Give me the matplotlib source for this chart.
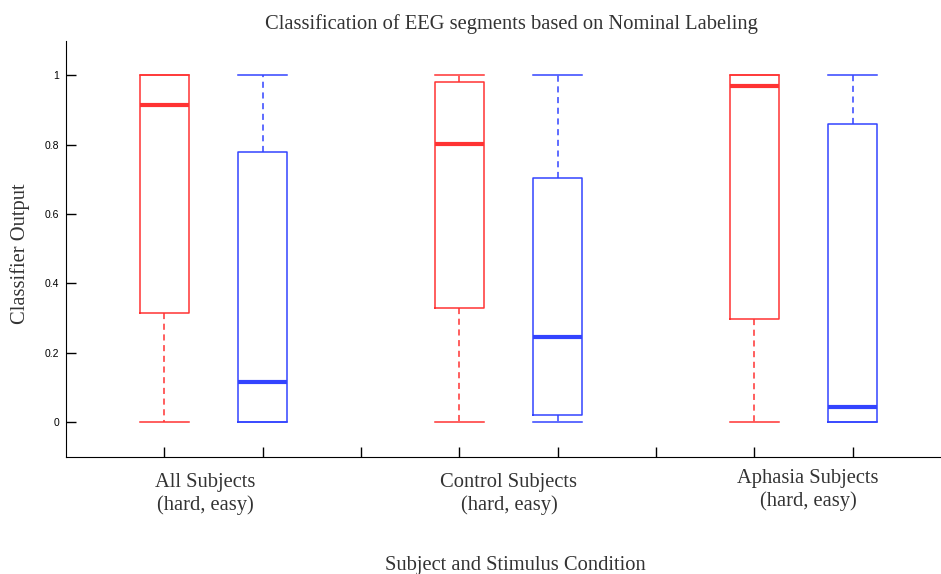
import matplotlib
matplotlib.use("Agg")
import matplotlib.pyplot as plt

groups = ["All Subjects\n(hard, easy)", "Control Subjects\n(hard, easy)", "Aphasia Subjects\n(hard, easy)"]
conditions = ["hard", "easy"]
positions = [1, 2, 4, 5, 7, 8]
whislo = [0.0, 0.0, 0.0, 0.0, 0.0, 0.0]
q1 = [0.315, 0.0, 0.33, 0.022, 0.297, 0.0]
med = [0.913, 0.116, 0.802, 0.247, 0.970, 0.043]
q3 = [1.0, 0.779, 0.980, 0.705, 1.0, 0.860]
whishi = [1.0, 1.0, 1.0, 1.0, 1.0, 1.0]
colors = ["#ff3333", "#3344ff"] * 3

W, H = 941, 574
fig = plt.figure(figsize=(9.41, 5.74), dpi=100)
top_px, bot_px = 40.5, 457
ax = fig.add_axes([66/W, (H-bot_px)/H, 875/W, (bot_px-top_px)/H])

for i in range(len(positions)):
    st = dict(whislo=whislo[i], q1=q1[i], med=med[i], q3=q3[i], whishi=whishi[i], fliers=[])
    c = colors[i]
    ax.bxp([st], positions=[positions[i]], widths=0.5, showfliers=False,
           boxprops=dict(color=c, linewidth=1.1),
           medianprops=dict(color=c, linewidth=3),
           whiskerprops=dict(color=c, linewidth=1.1, linestyle=(0, (4, 3))),
           capprops=dict(color=c, linewidth=1.1),
           capwidths=0.5, manage_ticks=False)

ax.set_xlim(0, 8.9)
ax.set_ylim(-0.1, 1.1)
ax.set_xticks(range(1, 9))
ax.set_xticklabels([])
ax.set_yticks([0, 0.2, 0.4, 0.6, 0.8, 1])
ax.set_yticklabels(["0", "0.2", "0.4", "0.6", "0.8", "1"], family="Liberation Sans", fontsize=7.5)
ax.tick_params(direction="in", length=7, width=1, pad=5)
ax.spines["top"].set_visible(False)
ax.spines["right"].set_visible(False)

serif = "Liberation Serif"
fs = 14.8
tc = "#333333"
label_x = [205, 509, 808]
label_y1 = [487, 487, 483]
label_y2 = [510, 510, 506]
for g, lx, y1, y2 in zip(groups, label_x, label_y1, label_y2):
    l1, l2 = g.split("\n")
    fig.text(lx/W, 1 - y1/H, l1, ha="center", va="baseline", family=serif, fontsize=fs, color=tc)
    fig.text(lx/W, 1 - y2/H, l2, ha="center", va="baseline", family=serif, fontsize=fs, color=tc)

fig.text(511/W, 1 - 29/H, "Classification of EEG segments based on Nominal Labeling",
         ha="center", va="baseline", family=serif, fontsize=fs, color=tc)
fig.text(20/W, 1 - 254/H, "Classifier Output", rotation=90, ha="center", va="center",
         family=serif, fontsize=fs, color=tc)
fig.text(515/W, 1 - 570/H, "Subject and Stimulus Condition", ha="center", va="baseline",
         family=serif, fontsize=fs, color=tc)

fig.savefig("out.png", dpi=100)
